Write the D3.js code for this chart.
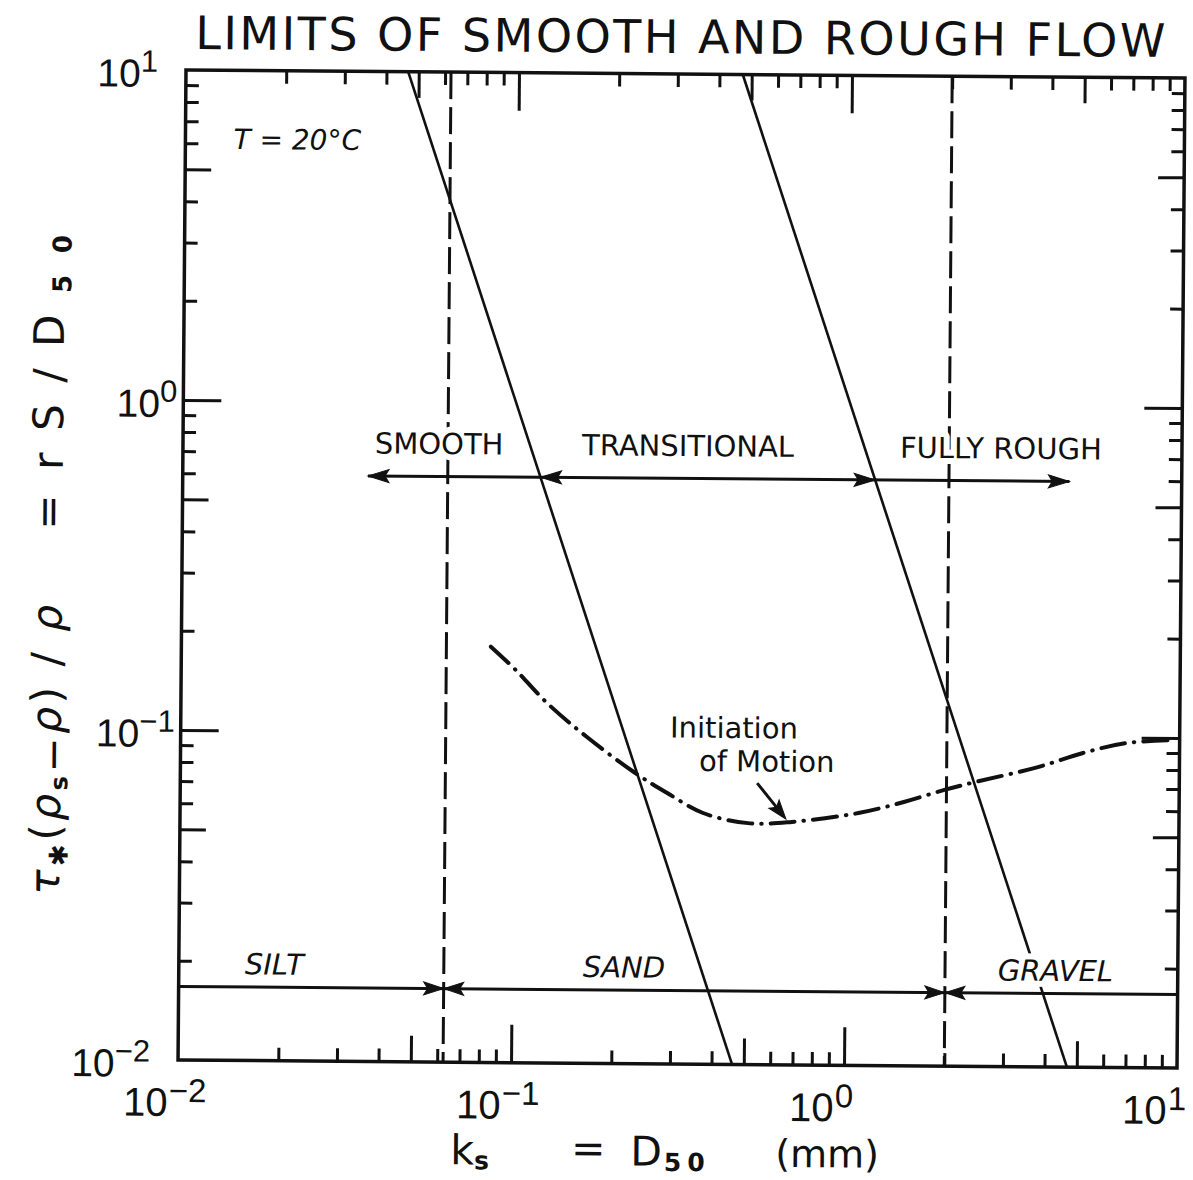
<!DOCTYPE html>
<html>
<head>
<meta charset="utf-8">
<script src="https://cdn.jsdelivr.net/npm/d3@7"></script>
<style>
  body { margin: 0; background: #fff; }
  svg text { fill: #111; }
</style>
</head>
<body>
<svg id="chart" width="1193" height="1180"></svg>
<script>
// ---- data ----
// axis ranges: grain size k_s = D50 (mm) and shear parameter rS/D50
const xDomain = [0.01, 10];
const yDomain = [0.01, 10];
const decades = [0.01, 0.1, 1, 10];
const decadeExponents = ["−2", "−1", "0", "1"];

// limit lines (straight on log-log axes): end points at top and bottom of the plot
const smoothLimitX = [0.0465, 0.461];
const smoothLimitY = [10, 0.01];
const roughLimitX = [0.47, 4.67];
const roughLimitY = [10, 0.01];

// grain size class boundaries (mm): silt/sand and sand/gravel
const classBounds = [0.0625, 2];
const classLineY = 0.0167;

// flow regime arrow
const regimeArrowY = 0.595;
const regimeArrowX = [0.036, 4.6];

// initiation of motion curve
const motionX = [0.085, 0.101, 0.126, 0.166, 0.230, 0.290, 0.372, 0.508, 0.688, 1.09, 1.49, 1.97, 2.37, 3.76, 5.13, 6.95, 9.75];
const motionY = [0.182, 0.155, 0.123, 0.0974, 0.0765, 0.0662, 0.0577, 0.0539, 0.0545, 0.0582, 0.063, 0.0687, 0.0722, 0.081, 0.0896, 0.0963, 0.0986];

// leader arrow for the curve label (from, to)
const leaderX = [0.54, 0.66];
const leaderY = [0.0713, 0.0556];

// text labels placed in data coordinates
const regimeLabels = [
  { text: "SMOOTH", x: 0.0377, y: 0.696 },
  { text: "TRANSITIONAL", x: 0.158, y: 0.696 },
  { text: "FULLY ROUGH", x: 1.423, y: 0.696 }
];
const classLabels = [
  { text: "SILT", x: 0.0158, y: 0.01824 },
  { text: "SAND", x: 0.1634, y: 0.01824 },
  { text: "GRAVEL", x: 2.88, y: 0.01824 }
];
const tempLabel = { text: "T = 20°C", x: 0.01394, y: 5.78 };
const motionLabel = [
  { text: "Initiation", x: 0.2949, y: 0.0975 },
  { text: "of Motion", x: 0.3608, y: 0.0773 }
];

// ---- layout ----
const L = 182, R = 1181, T = 74, B = 1064;
const ink = "#111";
const sans = "'DejaVu Sans', sans-serif";
const digits = "'Liberation Sans', Arial, sans-serif";

const x = d3.scaleLog().domain(xDomain).range([L, R]);
const y = d3.scaleLog().domain(yDomain).range([B, T]);

const svg = d3.select("#chart");
svg.append("rect").attr("width", 1193).attr("height", 1180).attr("fill", "#fff");

// the whole sheet sits very slightly turned
const g = svg.append("g").attr("transform", "rotate(0.46, 681, 569)");

// ---- title ----
g.append("text")
  .attr("x", 191).attr("y", 53)
  .attr("textLength", 970).attr("lengthAdjust", "spacing")
  .attr("font-family", sans).attr("font-size", 46)
  .text("LIMITS OF SMOOTH AND ROUGH FLOW");

// ---- ticks (inward on all four sides) ----
const tickValues = [];
for (const d of decades.slice(0, 3)) {
  for (let m = 1; m <= 9; m++) {
    const v = +(m * d).toPrecision(3);
    if (v > xDomain[0] && v < xDomain[1]) tickValues.push(v);
  }
}
function tickLen(v) {
  const e = Math.floor(Math.log10(v) + 1e-9);
  const m = Math.round(v / Math.pow(10, e));
  return m === 1 ? 38 : (m === 5 ? 26 : 13);
}
function axisGroup(gen, transform, attrName, sign) {
  const a = g.append("g").attr("transform", transform)
    .call(gen.tickValues(tickValues).tickFormat("").tickSizeOuter(0));
  a.select(".domain").remove();
  a.selectAll(".tick text").remove();
  a.selectAll(".tick line")
    .attr(attrName, d => sign * tickLen(d))
    .attr("stroke", ink).attr("stroke-width", 3);
}
axisGroup(d3.axisBottom(x), `translate(0,${B})`, "y2", -1);
axisGroup(d3.axisTop(x), `translate(0,${T})`, "y2", 1);
axisGroup(d3.axisLeft(y), `translate(${L},0)`, "x2", 1);
axisGroup(d3.axisRight(y), `translate(${R},0)`, "x2", -1);

// frame
g.append("rect")
  .attr("x", L).attr("y", T).attr("width", R - L).attr("height", B - T)
  .attr("fill", "none").attr("stroke", ink).attr("stroke-width", 3.5);

// ---- tick labels ----
decades.forEach((v, i) => {
  // x axis
  g.append("text").attr("x", x(v) - 10).attr("y", 1120)
    .attr("text-anchor", "end").attr("font-family", digits).attr("font-size", 40)
    .text("10");
  g.append("text").attr("x", x(v) - 9).attr("y", 1106)
    .attr("font-family", digits).attr("font-size", 33)
    .text(decadeExponents[i]);
  // y axis
  const gap = (i === 0 || i === decades.length - 1) ? 28 : 6;
  const t = g.append("text").attr("x", L - gap).attr("y", y(v) + 17)
    .attr("text-anchor", "end").attr("font-family", digits).attr("font-size", 39);
  t.append("tspan").text("10");
  t.append("tspan").attr("dy", -15).attr("font-size", 31).text(decadeExponents[i]);
});

// ---- axis titles ----
const xt = g.append("g").attr("font-family", sans);
xt.append("text").attr("x", 455).attr("y", 1166).attr("font-size", 41)
  .call(s => {
    s.append("tspan").text("k");
    s.append("tspan").attr("dy", 5).attr("font-size", 25).attr("font-weight", "bold").text("s");
  });
xt.append("text").attr("x", 593).attr("y", 1163).attr("text-anchor", "middle").attr("font-size", 41).text("=");
xt.append("text").attr("x", 635).attr("y", 1166).attr("font-size", 41)
  .call(s => {
    s.append("tspan").text("D");
    s.append("tspan").attr("dy", 5).attr("font-size", 25).attr("font-weight", "bold")
      .attr("letter-spacing", 6).attr("dx", 2).text("50");
  });
xt.append("text").attr("x", 780).attr("y", 1166).attr("font-size", 38).text("(mm)");

const yt = g.append("g").attr("transform", "translate(62,900) rotate(-90)").attr("font-family", sans);
yt.append("text").attr("x", 0).attr("y", 0).attr("font-size", 42)
  .attr("textLength", 290).attr("lengthAdjust", "spacing")
  .call(s => {
    s.append("tspan").attr("font-style", "italic").text("τ");
    s.append("tspan").attr("dy", 8).attr("font-size", 26).text("✱");
    s.append("tspan").attr("dy", -8).text("(");
    s.append("tspan").attr("font-style", "italic").text("ρ");
    s.append("tspan").attr("dy", 7).attr("font-size", 24).attr("font-weight", "bold").text("s");
    s.append("tspan").text("−");
    s.append("tspan").attr("dy", -7).attr("font-style", "italic").text("ρ");
    s.append("tspan").text(")");
    s.append("tspan").text(" /");
    s.append("tspan").attr("font-style", "italic").text(" ρ");
  });
yt.append("text").attr("x", 383).attr("y", 0).attr("text-anchor", "middle").attr("font-size", 42).text("=");
yt.append("text").attr("x", 425).attr("y", 0).attr("font-size", 42)
  .attr("textLength", 235).attr("lengthAdjust", "spacing")
  .call(s => {
    s.append("tspan").text("r");
    s.append("tspan").text("S");
    s.append("tspan").text("/");
    s.append("tspan").text("D");
    s.append("tspan").attr("dy", 7).attr("font-size", 26).attr("font-weight", "bold").text("50");
  });

// ---- plot content ----
const plot = g.append("g");

// grain class boundaries (dashed verticals)
plot.selectAll(".bound").data(classBounds).join("line")
  .attr("x1", d => x(d)).attr("x2", d => x(d))
  .attr("y1", y(yDomain[1])).attr("y2", y(yDomain[0]))
  .attr("stroke", ink).attr("stroke-width", 3)
  .attr("stroke-dasharray", "27 8");

// limit lines
const straight = d3.line().x(d => x(d[0])).y(d => y(d[1]));
[[smoothLimitX, smoothLimitY], [roughLimitX, roughLimitY]].forEach(([xs, ys]) => {
  plot.append("path")
    .attr("d", straight(xs.map((v, i) => [v, ys[i]])))
    .attr("fill", "none").attr("stroke", ink).attr("stroke-width", 2.6);
});

// x position where a limit line meets a given level
function crossX(xs, ys, level) {
  const t = (Math.log10(level) - Math.log10(ys[0])) / (Math.log10(ys[1]) - Math.log10(ys[0]));
  return Math.pow(10, Math.log10(xs[0]) + t * (Math.log10(xs[1]) - Math.log10(xs[0])));
}

// filled, slightly notched arrow head with its tip at (px,py) pointing at angle a
function head(px, py, a, len = 21, w = 6.5) {
  const c = Math.cos(a), s = Math.sin(a);
  const bx = px - c * len, by = py - s * len;
  const nx = -s * w, ny = c * w;
  const mx = px - c * (len - 4), my = py - s * (len - 4);
  plot.append("path")
    .attr("d", `M${px},${py}L${bx + nx},${by + ny}L${mx},${my}L${bx - nx},${by - ny}Z`)
    .attr("fill", ink).attr("stroke", ink).attr("stroke-width", 1).attr("stroke-linejoin", "miter");
}

// flow regime arrow
const ry = y(regimeArrowY);
plot.append("line")
  .attr("x1", x(regimeArrowX[0])).attr("x2", x(regimeArrowX[1]))
  .attr("y1", ry).attr("y2", ry)
  .attr("stroke", ink).attr("stroke-width", 3);
const c1 = x(crossX(smoothLimitX, smoothLimitY, regimeArrowY));
const c2 = x(crossX(roughLimitX, roughLimitY, regimeArrowY));
head(x(regimeArrowX[0]), ry, Math.PI);
head(c1, ry, Math.PI);
head(c2, ry, 0);
head(x(regimeArrowX[1]), ry, 0);

// grain class arrow
const cy = y(classLineY);
plot.append("line")
  .attr("x1", x(xDomain[0])).attr("x2", x(xDomain[1]))
  .attr("y1", cy).attr("y2", cy)
  .attr("stroke", ink).attr("stroke-width", 3);
classBounds.forEach(b => {
  head(x(b), cy, 0, 20, 6.5);
  head(x(b), cy, Math.PI, 20, 6.5);
});

// initiation of motion curve
const smoothCurve = d3.line().curve(d3.curveCatmullRom.alpha(0.5))
  .x(d => x(d[0])).y(d => y(d[1]));
plot.append("path")
  .attr("d", smoothCurve(motionX.map((v, i) => [v, motionY[i]])))
  .attr("fill", "none").attr("stroke", ink).attr("stroke-width", 4)
  .attr("stroke-linecap", "round")
  .attr("stroke-dasharray", "24 9 0.5 9");

// leader arrow
const lx0 = x(leaderX[0]), ly0 = y(leaderY[0]), lx1 = x(leaderX[1]), ly1 = y(leaderY[1]);
const la = Math.atan2(ly1 - ly0, lx1 - lx0);
plot.append("line")
  .attr("x1", lx0).attr("y1", ly0)
  .attr("x2", lx1 - Math.cos(la) * 12).attr("y2", ly1 - Math.sin(la) * 12)
  .attr("stroke", ink).attr("stroke-width", 3);
head(lx1, ly1, la, 19, 6.5);

// ---- labels (white halo keeps crossing lines off the lettering) ----
function halo(sel) {
  sel.attr("stroke", "#fff").attr("stroke-width", 12)
    .attr("paint-order", "stroke").attr("stroke-linejoin", "round");
}
plot.selectAll(".regime").data(regimeLabels).join("text")
  .attr("x", d => x(d.x)).attr("y", d => y(d.y))
  .attr("font-family", sans).attr("font-size", 29)
  .call(halo)
  .text(d => d.text);
plot.selectAll(".cls").data(classLabels).join("text")
  .attr("x", d => x(d.x)).attr("y", d => y(d.y))
  .attr("font-family", sans).attr("font-size", 29).attr("font-style", "italic")
  .call(halo)
  .text(d => d.text);
plot.append("text")
  .attr("x", x(tempLabel.x)).attr("y", y(tempLabel.y))
  .attr("font-family", sans).attr("font-size", 28).attr("font-style", "italic")
  .attr("xml:space", "preserve")
  .text(tempLabel.text);
plot.selectAll(".motion").data(motionLabel).join("text")
  .attr("x", d => x(d.x)).attr("y", d => y(d.y))
  .attr("font-family", sans).attr("font-size", 29)
  .text(d => d.text);
</script>
</body>
</html>
